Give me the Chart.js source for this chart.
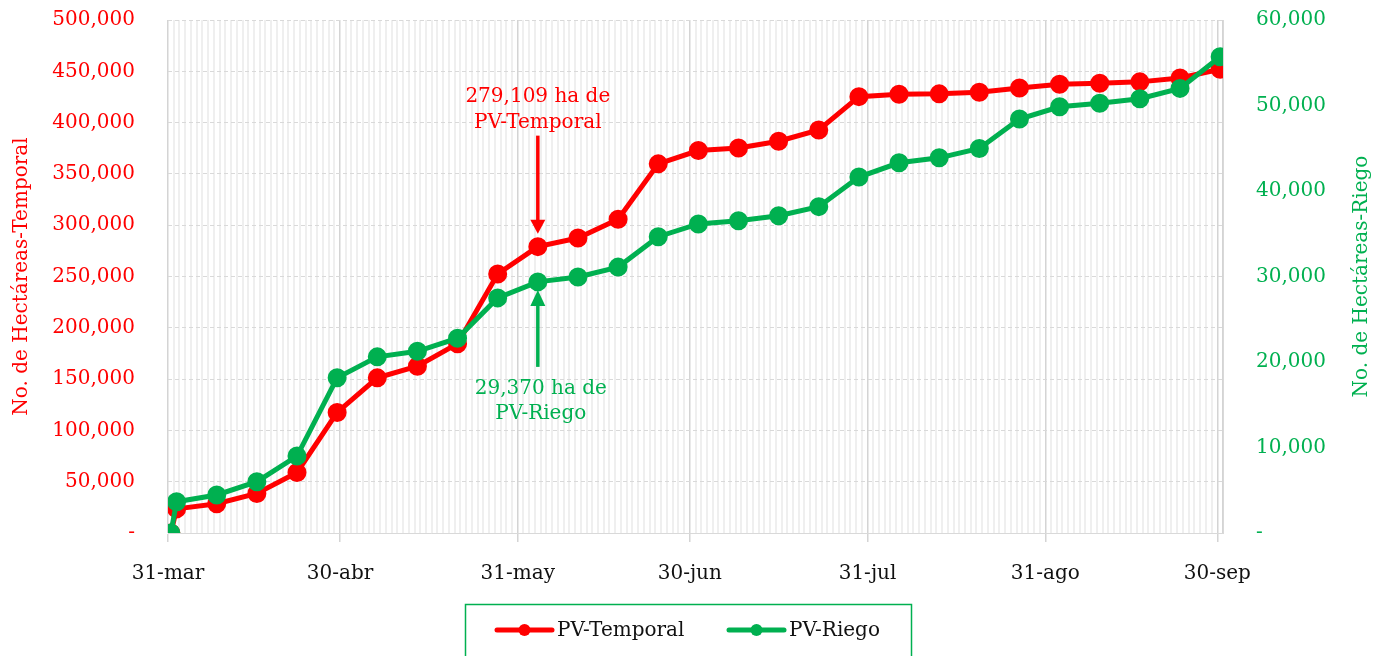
<!DOCTYPE html>
<html>
<head>
<meta charset="utf-8">
<script src="https://cdn.jsdelivr.net/npm/chart.js@4.4.0/dist/chart.umd.min.js"></script>
<style>
  html, body { margin: 0; padding: 0; background: #fff; }
  canvas { display: block; }
</style>
</head>
<body>
<canvas id="pvChart" width="1382" height="656"></canvas>
<script>
// fechas de corte semanales
const fechas = [
  '2021-03-31', '2021-04-01', '2021-04-08', '2021-04-15', '2021-04-22', '2021-04-29',
  '2021-05-06', '2021-05-13', '2021-05-20', '2021-05-27', '2021-06-03', '2021-06-10',
  '2021-06-17', '2021-06-24', '2021-07-01', '2021-07-08', '2021-07-15', '2021-07-22',
  '2021-07-29', '2021-08-05', '2021-08-12', '2021-08-19', '2021-08-26', '2021-09-02',
  '2021-09-09', '2021-09-16', '2021-09-23', '2021-09-30'
];

// hectareas acumuladas
const temporal = [
  0, 23500, 28500, 38500, 59000, 117500, 151200, 162500, 184500, 252500,
  279109, 287500, 305800, 359800, 372800, 375200, 381800, 392800, 425300, 427600,
  428000, 429500, 433700, 437400, 438300, 439700, 443500, 452000
];
const riego = [
  0, 3650, 4450, 6000, 9000, 18150, 20600, 21250, 22780, 27500,
  29370, 29950, 31100, 34650, 36150, 36520, 37100, 38170, 41630, 43300,
  43880, 44980, 48420, 49850, 50260, 50790, 52000, 55700
];

// etiquetas del eje x
const tickFechas = ['2021-03-31', '2021-04-30', '2021-05-31', '2021-06-30', '2021-07-31', '2021-08-31', '2021-09-30'];
const tickLabels = ['31-mar', '30-abr', '31-may', '30-jun', '31-jul', '31-ago', '30-sep'];

const fechaNota = '2021-06-03';

const ROJO = '#ff0000';
const VERDE = '#00b050';
const FONT = 'DejaVu Serif';

const t0 = Date.parse(fechas[0]);
const dia = s => Math.round((Date.parse(s) - t0) / 86400000);
const dias = fechas.map(dia);
const tickDias = tickFechas.map(dia);
const ultimoDia = tickDias[tickDias.length - 1] + 1;

const fmt = v => v === 0 ? '-' : v.toLocaleString('en-US');

const extras = {
  id: 'extras',
  afterDatasetsDraw(chart) {
    const { ctx, chartArea } = chart;
    const x = chart.scales.x, yT = chart.scales.yT, yR = chart.scales.yR;
    const i = fechas.indexOf(fechaNota);
    const px = x.getPixelForValue(dias[i] + 0.5);
    const pyT = yT.getPixelForValue(temporal[i]);
    const pyR = yR.getPixelForValue(riego[i]);

    ctx.save();
    ctx.font = '20px "' + FONT + '"';
    ctx.textAlign = 'center';
    ctx.textBaseline = 'middle';

    // nota temporal
    ctx.fillStyle = ROJO;
    ctx.strokeStyle = ROJO;
    ctx.fillText(fmt(temporal[i]) + ' ha de', px, pyT - 150);
    ctx.fillText('PV-Temporal', px, pyT - 124);
    ctx.lineWidth = 3.5;
    ctx.beginPath();
    ctx.moveTo(px, pyT - 111);
    ctx.lineTo(px, pyT - 26);
    ctx.stroke();
    ctx.beginPath();
    ctx.moveTo(px - 7.5, pyT - 27);
    ctx.lineTo(px + 7.5, pyT - 27);
    ctx.lineTo(px, pyT - 13);
    ctx.closePath();
    ctx.fill();

    // nota riego
    ctx.fillStyle = VERDE;
    ctx.strokeStyle = VERDE;
    ctx.beginPath();
    ctx.moveTo(px, pyR + 22);
    ctx.lineTo(px, pyR + 85);
    ctx.stroke();
    ctx.beginPath();
    ctx.moveTo(px - 7.5, pyR + 24);
    ctx.lineTo(px + 7.5, pyR + 24);
    ctx.lineTo(px, pyR + 8);
    ctx.closePath();
    ctx.fill();
    ctx.fillText(fmt(riego[i]) + ' ha de', px + 3, pyR + 107);
    ctx.fillText('PV-Riego', px + 3, pyR + 132);

    // titulos de ejes
    const midY = (chartArea.top + chartArea.bottom) / 2;
    ctx.save();
    ctx.translate(22, midY);
    ctx.rotate(-Math.PI / 2);
    ctx.fillStyle = ROJO;
    ctx.fillText('No. de Hectáreas-Temporal', 0, 0);
    ctx.restore();
    ctx.save();
    ctx.translate(1362, midY);
    ctx.rotate(-Math.PI / 2);
    ctx.fillStyle = VERDE;
    ctx.fillText('No. de Hectáreas-Riego', 0, 0);
    ctx.restore();

    // leyenda
    ctx.strokeStyle = VERDE;
    ctx.lineWidth = 1.5;
    ctx.strokeRect(465.5, 604.5, 446, 60);
    const item = (x0, color, label) => {
      ctx.strokeStyle = color;
      ctx.fillStyle = color;
      ctx.lineWidth = 5;
      ctx.lineCap = 'round';
      ctx.beginPath();
      ctx.moveTo(x0, 630);
      ctx.lineTo(x0 + 55, 630);
      ctx.stroke();
      ctx.beginPath();
      ctx.arc(x0 + 27.5, 630, 6, 0, Math.PI * 2);
      ctx.fill();
      ctx.fillStyle = '#111';
      ctx.textAlign = 'left';
      ctx.fillText(label, x0 + 60, 631);
    };
    item(497, ROJO, 'PV-Temporal');
    item(729, VERDE, 'PV-Riego');
    ctx.restore();
  }
};

Chart.defaults.font.family = FONT;
Chart.defaults.font.size = 20;

// ancho fijo del eje y sin el relleno extra arriba/abajo
const fijaEje = w => s => { s.width = w; s.paddingTop = 12; s.paddingBottom = 12; };
const esMayor = v => tickDias.includes(v) || v === ultimoDia;

new Chart(document.getElementById('pvChart'), {
  type: 'line',
  data: {
    datasets: [
      {
        label: 'PV-Temporal',
        data: temporal.map((v, k) => ({ x: dias[k] + 0.5, y: v })),
        yAxisID: 'yT',
        borderColor: ROJO,
        backgroundColor: ROJO,
        borderWidth: 5,
        pointRadius: 7,
        pointHoverRadius: 7,
        tension: 0,
        order: 1
      },
      {
        label: 'PV-Riego',
        data: riego.map((v, k) => ({ x: dias[k] + 0.5, y: v })),
        yAxisID: 'yR',
        borderColor: VERDE,
        backgroundColor: VERDE,
        borderWidth: 5,
        pointRadius: 7,
        pointHoverRadius: 7,
        tension: 0,
        order: 0
      }
    ]
  },
  options: {
    responsive: false,
    animation: false,
    layout: { padding: { top: 20, bottom: 73, left: 0, right: 0 } },
    plugins: { legend: { display: false }, tooltip: { enabled: false } },
    scales: {
      x: {
        type: 'linear',
        min: 0,
        max: ultimoDia,
        afterFit: s => { s.height = 50; },
        ticks: {
          stepSize: 1,
          autoSkip: false,
          maxRotation: 0,
          padding: 20,
          color: '#111',
          callback: v => {
            const k = tickDias.indexOf(v);
            return k >= 0 ? tickLabels[k] : '';
          }
        },
        grid: {
          lineWidth: c => esMayor(c.tick.value) ? 1.5 : 2,
          color: c => esMayor(c.tick.value) ? '#d4d4d4' : '#efefef',
          tickLength: 9,
          tickColor: c => tickDias.includes(c.tick.value) ? '#d4d4d4' : 'rgba(0,0,0,0)'
        },
        border: { display: true, color: '#d9d9d9' }
      },
      yT: {
        position: 'left',
        min: 0,
        max: 500000,
        afterFit: fijaEje(168),
        ticks: { stepSize: 50000, padding: 33, color: ROJO, callback: v => fmt(v) },
        grid: { color: '#d9d9d9', lineWidth: 1, drawTicks: false },
        border: { display: false, dash: [4, 3] }
      },
      yR: {
        position: 'right',
        min: 0,
        max: 60000,
        afterFit: fijaEje(159),
        ticks: { stepSize: 10000, padding: 33, color: VERDE, callback: v => fmt(v) },
        grid: { display: false, drawTicks: false },
        border: { display: true, color: '#d9d9d9' }
      }
    }
  },
  plugins: [extras]
});
</script>
</body>
</html>
